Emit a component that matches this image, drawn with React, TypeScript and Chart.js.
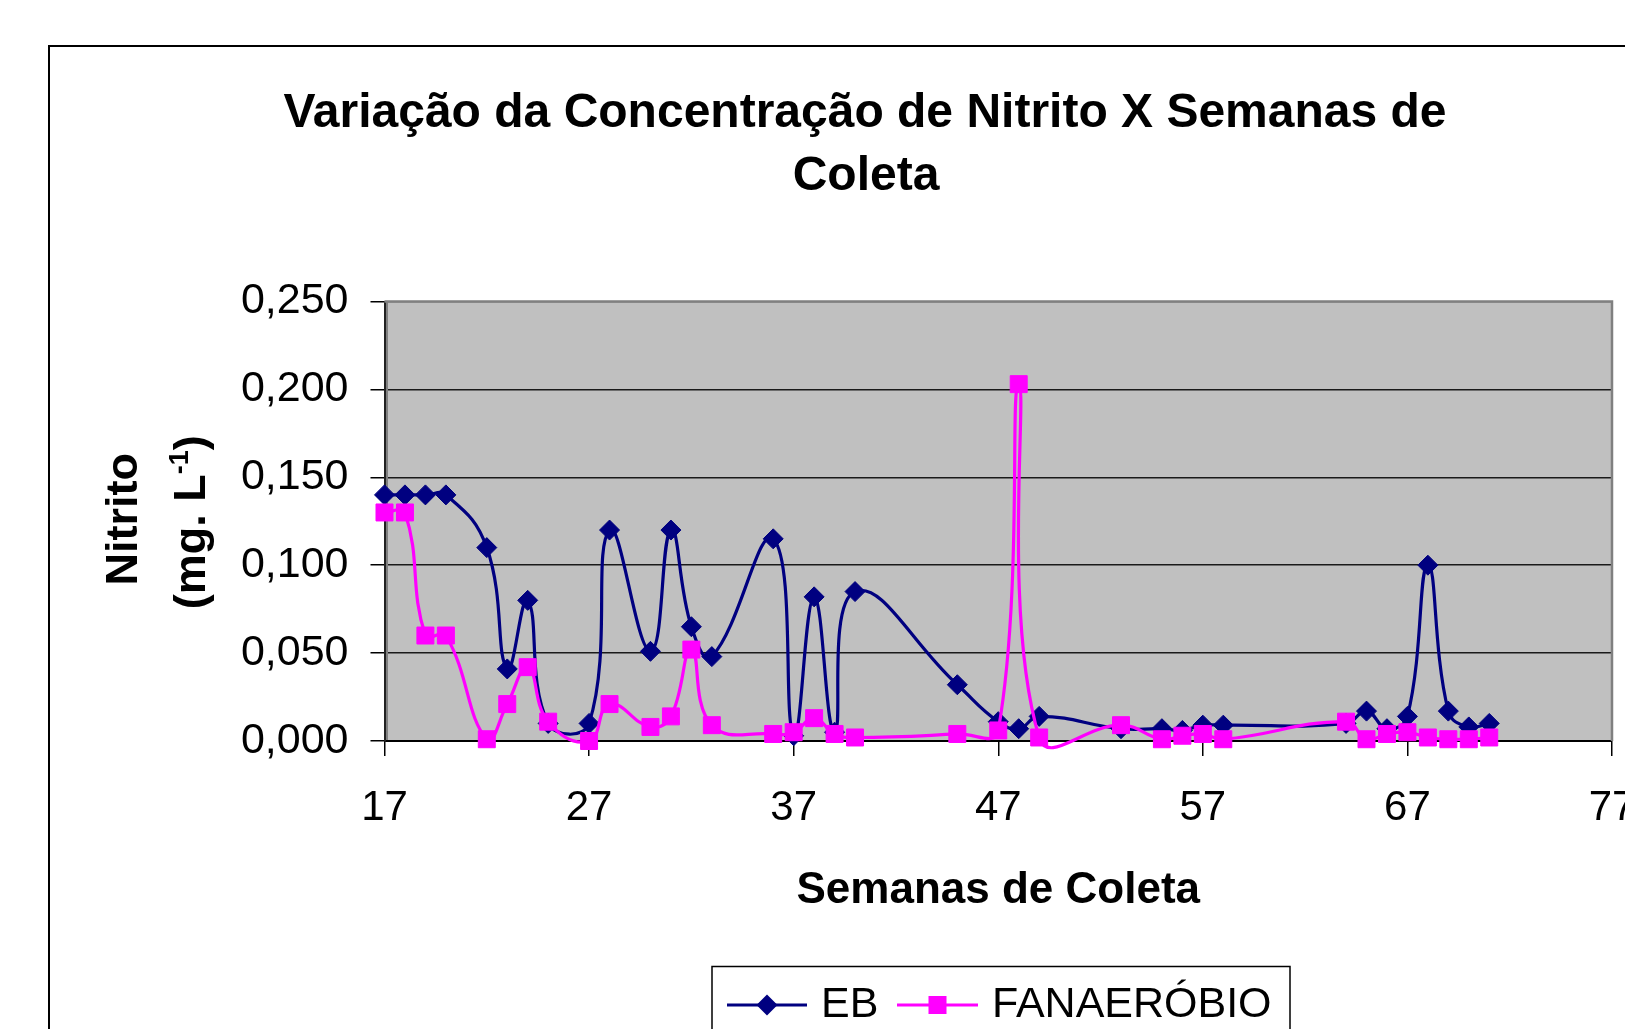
import React, { useEffect, useRef } from "react";
import { Chart, registerables } from "chart.js";

Chart.register(...registerables);

// ---------- data ----------
const weeks = [17, 18, 19, 20, 22, 23, 24, 25, 27, 28, 30, 31, 32, 33, 36, 37, 38, 39, 40, 45, 47, 48, 49, 53, 55, 56, 57, 58, 64, 65, 66, 67, 68, 69, 70, 71];
const ebValues = [0.140, 0.140, 0.140, 0.140, 0.110, 0.041, 0.080, 0.010, 0.010, 0.120, 0.051, 0.120, 0.065, 0.048, 0.115, 0.003, 0.082, 0.005, 0.085, 0.032, 0.011, 0.007, 0.014, 0.007, 0.007, 0.006, 0.009, 0.009, 0.010, 0.017, 0.007, 0.014, 0.100, 0.017, 0.008, 0.010];
const fanValues = [0.130, 0.130, 0.060, 0.060, 0.001, 0.021, 0.042, 0.011, 0.000, 0.021, 0.008, 0.014, 0.052, 0.009, 0.004, 0.005, 0.013, 0.004, 0.002, 0.004, 0.006, 0.203, 0.002, 0.009, 0.001, 0.003, 0.004, 0.001, 0.011, 0.001, 0.004, 0.005, 0.002, 0.001, 0.001, 0.002];
const xTicks = [17, 27, 37, 47, 57, 67, 77];
const yTicks = [0, 0.05, 0.1, 0.15, 0.2, 0.25];
const titleLines = ["Variação da Concentração de Nitrito X Semanas de", "Coleta"];
const xTitle = "Semanas de Coleta";
const yTitleLine1 = "Nitrito";
const yTitleLine2 = ["(mg. L", "-1", ")"];
const seriesNames = ["EB", "FANAERÓBIO"];

const NAVY = "#000080";
const MAGENTA = "#FF00FF";
const FONT = "'Liberation Sans', Arial, sans-serif";

const decor = {
  id: "decor",
  beforeDraw(chart: any) {
    const { ctx, chartArea: a } = chart;
    ctx.save();
    ctx.fillStyle = "#ffffff";
    ctx.fillRect(0, 0, chart.width, chart.height);
    ctx.fillStyle = "#C0C0C0";
    ctx.fillRect(a.left, a.top, a.right - a.left, a.bottom - a.top);
    // outer chart border
    ctx.strokeStyle = "#000";
    ctx.lineWidth = 2;
    ctx.beginPath();
    ctx.moveTo(49, chart.height + 5);
    ctx.lineTo(49, 46);
    ctx.lineTo(chart.width + 5, 46);
    ctx.stroke();
    ctx.restore();
  },
  beforeDatasetsDraw(chart: any) {
    const { ctx, chartArea: a } = chart;
    ctx.save();
    ctx.strokeStyle = "#808080";
    ctx.lineWidth = 2.5;
    ctx.beginPath();
    ctx.moveTo(a.left, a.top);
    ctx.lineTo(a.right, a.top);
    ctx.lineTo(a.right, a.bottom);
    ctx.stroke();
    ctx.lineWidth = 2;
    ctx.beginPath();
    ctx.moveTo(a.left + 2.5, a.top);
    ctx.lineTo(a.left + 2.5, a.bottom - 1);
    ctx.stroke();
    ctx.restore();
  },
  afterDraw(chart: any) {
    const { ctx, chartArea: a } = chart;
    ctx.save();
    ctx.fillStyle = "#000";
    // title
    ctx.font = `bold 48px ${FONT}`;
    ctx.textAlign = "center";
    ctx.textBaseline = "alphabetic";
    ctx.fillText(titleLines[0], 865, 127);
    ctx.fillText(titleLines[1], 866, 190);
    // x axis title
    ctx.font = `bold 44px ${FONT}`;
    ctx.fillText(xTitle, (a.left + a.right) / 2, 903);
    // y axis title
    const cy = (a.top + a.bottom) / 2;
    ctx.save();
    ctx.translate(137, cy - 2);
    ctx.rotate(-Math.PI / 2);
    ctx.font = `bold 45px ${FONT}`;
    ctx.textAlign = "center";
    ctx.fillText(yTitleLine1, 0, 0);
    ctx.restore();
    ctx.save();
    ctx.translate(205, cy + 1);
    ctx.rotate(-Math.PI / 2);
    const big = `bold 45px ${FONT}`;
    const small = `bold 27px ${FONT}`;
    ctx.font = big;
    const w1 = ctx.measureText(yTitleLine2[0]).width;
    const w3 = ctx.measureText(yTitleLine2[2]).width;
    ctx.font = small;
    const w2 = ctx.measureText(yTitleLine2[1]).width;
    const x0 = -(w1 + w2 + w3) / 2;
    ctx.textAlign = "left";
    ctx.font = big;
    ctx.fillText(yTitleLine2[0], x0, 0);
    ctx.font = small;
    ctx.fillText(yTitleLine2[1], x0 + w1, -17);
    ctx.font = big;
    ctx.fillText(yTitleLine2[2], x0 + w1 + w2, 0);
    ctx.restore();

    // legend
    ctx.strokeStyle = "#000";
    ctx.lineWidth = 1.5;
    ctx.strokeRect(712, 966.5, 578, 120);
    const ly = 1005;
    // EB
    ctx.strokeStyle = NAVY;
    ctx.lineWidth = 3.2;
    ctx.beginPath();
    ctx.moveTo(727, ly);
    ctx.lineTo(807, ly);
    ctx.stroke();
    ctx.fillStyle = NAVY;
    ctx.beginPath();
    ctx.moveTo(767 - 10.5, ly);
    ctx.lineTo(767, ly - 10.5);
    ctx.lineTo(767 + 10.5, ly);
    ctx.lineTo(767, ly + 10.5);
    ctx.closePath();
    ctx.fill();
    // FANAERÓBIO
    ctx.strokeStyle = MAGENTA;
    ctx.beginPath();
    ctx.moveTo(897, ly);
    ctx.lineTo(978, ly);
    ctx.stroke();
    ctx.fillStyle = MAGENTA;
    ctx.fillRect(937.5 - 9, ly - 9, 18, 18);
    ctx.fillStyle = "#000";
    ctx.font = `43px ${FONT}`;
    ctx.textAlign = "left";
    ctx.fillText(seriesNames[0], 821, 1017);
    ctx.fillText(seriesNames[1], 992, 1017);
    ctx.restore();
  },
};

export default function App() {
  const ref = useRef<HTMLCanvasElement | null>(null);
  useEffect(() => {
    if (!ref.current) return;
    const clipBox = { left: 14, right: 14, top: 14, bottom: 9 } as any;
    const chart = new Chart(ref.current, {
      type: "line",
      data: {
        datasets: [
          {
            label: seriesNames[0],
            data: weeks.map((w, i) => ({ x: w, y: ebValues[i] })),
            borderColor: NAVY,
            backgroundColor: NAVY,
            borderWidth: 3.2,
            pointStyle: "rectRot",
            pointRadius: 10,
            pointBorderWidth: 1,
            pointBackgroundColor: NAVY,
            pointBorderColor: NAVY,
            tension: 0.45,
            order: 2,
            clip: clipBox,
          },
          {
            label: seriesNames[1],
            data: weeks.map((w, i) => ({ x: w, y: fanValues[i] })),
            borderColor: MAGENTA,
            backgroundColor: MAGENTA,
            borderWidth: 3.2,
            pointStyle: "rect",
            pointRadius: 12,
            pointBorderWidth: 1,
            pointBackgroundColor: MAGENTA,
            pointBorderColor: MAGENTA,
            tension: 0.45,
            order: 1,
            clip: clipBox,
          },
        ],
      },
      options: {
        responsive: false,
        animation: false,
        events: [],
        devicePixelRatio: 1,
        elements: { line: { capBezierPoints: false } },
        layout: { padding: { left: 48, top: 301.5, right: 3, bottom: 0 } },
        plugins: {
          legend: { display: false },
          title: { display: false },
          tooltip: { enabled: false },
        },
        scales: {
          x: {
            type: "linear",
            min: 17,
            max: 77,
            afterBuildTicks: (s: any) => {
              s.ticks = xTicks.map((v) => ({ value: v }));
            },
            afterFit: (s: any) => {
              s.height = 288;
              s.paddingLeft = 0;
              s.paddingRight = 0;
            },
            grid: {
              display: true,
              drawOnChartArea: false,
              drawTicks: true,
              tickLength: 15,
              color: "#000",
              lineWidth: 1.5,
            },
            border: { display: true, color: "#000", width: 2 },
            ticks: {
              padding: 27,
              maxRotation: 0,
              autoSkip: false,
              color: "#000",
              font: { family: FONT, size: 42 },
              callback: (v: any) => String(v),
            },
          },
          y: {
            type: "linear",
            min: 0,
            max: 0.25,
            afterBuildTicks: (s: any) => {
              s.ticks = yTicks.map((v) => ({ value: v }));
            },
            afterFit: (s: any) => {
              s.width = 336.5;
              s.paddingTop = 0;
              s.paddingBottom = 0;
            },
            grid: {
              display: true,
              drawOnChartArea: true,
              drawTicks: true,
              tickLength: 14,
              color: (c: any) => (c.tick && c.tick.value === 0.25 ? "#808080" : "#1a1a1a"),
              tickColor: "#000",
              lineWidth: 1.5,
            },
            border: { display: true, color: "#222", width: 2 },
            ticks: {
              padding: 22,
              autoSkip: false,
              color: "#000",
              font: { family: FONT, size: 43 },
              callback: (v: any) => Number(v).toFixed(3).replace(".", ","),
            },
          },
        },
      },
      plugins: [decor],
    });
    return () => chart.destroy();
  }, []);

  return (
    <div style={{ position: "absolute", left: 0, top: 0, width: 1625, height: 1029, background: "#fff" }}>
      <canvas ref={ref} width={1625} height={1029} style={{ display: "block", width: 1625, height: 1029 }} />
    </div>
  );
}
